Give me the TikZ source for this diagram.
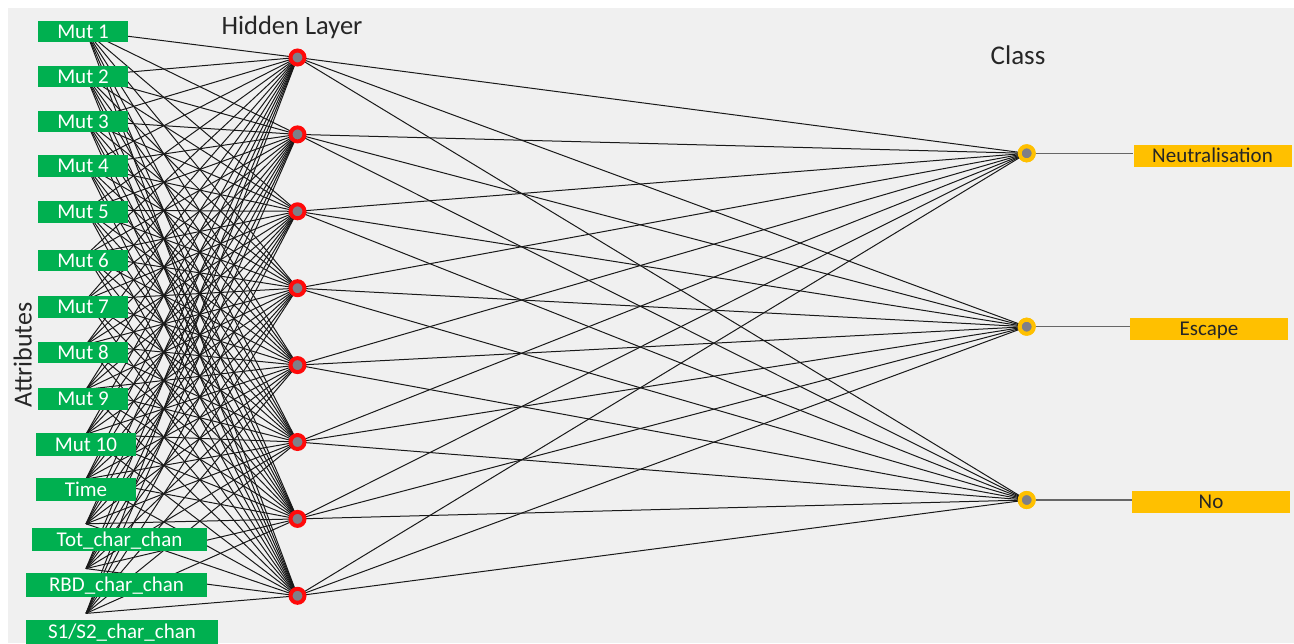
\documentclass[tikz,border=0pt]{standalone}
\usepackage{fontspec}
\setmainfont{Carlito}
\definecolor{bg}{HTML}{F0F0F0}
\definecolor{grn}{HTML}{00B050}
\definecolor{ylw}{HTML}{FFC000}
\definecolor{nodegray}{HTML}{7F7F88}
\definecolor{ringred}{HTML}{FF0A0A}
\definecolor{txtdark}{HTML}{262626}
\begin{document}
\begin{tikzpicture}[x=1pt,y=-1pt,
  inbox/.style={fill=grn, text=white, inner sep=0pt, font=\fontsize{21}{21}\selectfont, text height=13.5pt, text depth=0pt},
  outbox/.style={fill=ylw, text=txtdark, inner sep=0pt, font=\fontsize{21}{21}\selectfont, text height=13.5pt, text depth=0pt},
  hid/.style={circle, fill=nodegray, draw=ringred, line width=4pt, minimum size=14pt, inner sep=0pt},
  cls/.style={circle, fill=nodegray, draw=ylw, line width=4pt, minimum size=14pt, inner sep=0pt},
  conn/.style={black!90, line width=1pt},
  outconn/.style={black!60, line width=1.3pt},
  title/.style={text=txtdark, inner sep=0pt, anchor=base}
]
\useasboundingbox (0,0) rectangle (1294,643);
\fill[white] (0,0) rectangle (1294,643);
\fill[bg] (8,8) rectangle (1294,643);

% input fan-out points
\foreach \i in {1,...,14}
  \coordinate (o\i) at (86,{31+44.8*(\i-1)});
% hidden nodes
\foreach \k in {1,...,8}
  \coordinate (hp\k) at (297.5,{57.5+76.9*(\k-1)});
% connections input -> hidden
\foreach \i in {1,...,14}
  \foreach \k in {1,...,8}
    \draw[conn] (o\i) -- (hp\k);
% class nodes
\node[cls] (c1) at (1026.7,153.3) {};
\node[cls] (c2) at (1026.7,326.7) {};
\node[cls] (c3) at (1026.7,500) {};
% connections hidden -> class
\foreach \k in {1,...,8}
  \foreach \c in {1,2,3}
    \draw[conn] (hp\k) -- (c\c.center);
\foreach \c in {1,2,3}
  \node[cls] at (c\c) {};
\foreach \k in {1,...,8}
  \node[hid] (h\k) at (hp\k) {};

% input boxes
\node[inbox, minimum width=90pt, minimum height=21pt] (in1) at (83,31.5) {Mut 1};
\node[inbox, minimum width=90pt, minimum height=21pt] (in2) at (83,76.5) {Mut 2};
\node[inbox, minimum width=90pt, minimum height=21pt] (in3) at (83,121.5) {Mut 3};
\node[inbox, minimum width=90pt, minimum height=22pt] (in4) at (83,166) {Mut 4};
\node[inbox, minimum width=90pt, minimum height=22pt] (in5) at (83,212) {Mut 5};
\node[inbox, minimum width=90pt, minimum height=21pt] (in6) at (83,260.5) {Mut 6};
\node[inbox, minimum width=90pt, minimum height=22pt] (in7) at (83,307) {Mut 7};
\node[inbox, minimum width=90pt, minimum height=21pt] (in8) at (83,352.5) {Mut 8};
\node[inbox, minimum width=90pt, minimum height=22pt] (in9) at (83,399) {Mut 9};
\node[inbox, minimum width=100pt, minimum height=23pt] (in10) at (86,444.5) {Mut 10};
\node[inbox, minimum width=100pt, minimum height=23pt] (in11) at (86,489.5) {Time};
\node[inbox, minimum width=175pt, minimum height=23pt] (in12) at (119.5,539.5) {Tot\_char\_chan};
\node[inbox, minimum width=181pt, minimum height=24pt] (in13) at (116.5,585) {RBD\_char\_chan};
\node[inbox, minimum width=192pt, minimum height=24pt] (in14) at (122,632) {S1/S2\_char\_chan};

% output boxes
\node[outbox, minimum width=158pt, minimum height=22pt] (y1) at (1212.5,155.5) {Neutralisation};
\node[outbox, minimum width=158pt, minimum height=22pt] (y2) at (1209,329) {Escape};
\node[outbox, minimum width=158pt, minimum height=22pt] (y3) at (1211,502) {No};
\draw[outconn] (c1.east) -- (c1.east -| y1.west);
\draw[outconn] (c2.east) -- (c2.east -| y2.west);
\draw[outconn] (c3.east) -- (c3.east -| y3.west);

% titles
\node[title, font=\fontsize{26.5}{26.5}\selectfont] (tH) at (292,34) {Hidden Layer};
\node[title, font=\fontsize{27}{27}\selectfont] (tC) at (1018,64) {Class};
\node[title, font=\fontsize{26}{26}\selectfont, rotate=90] (tA) at (31.5,355) {Attributes};
\end{tikzpicture}
\end{document}
